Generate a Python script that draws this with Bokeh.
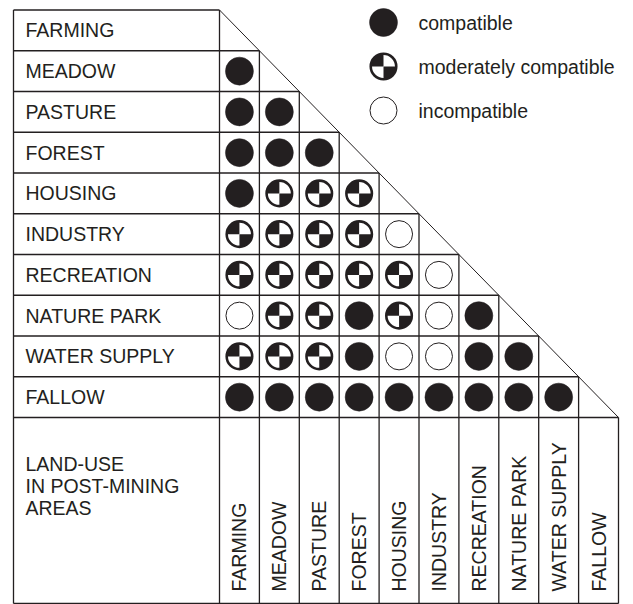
import math
from bokeh.plotting import figure
from bokeh.models import Range1d
from bokeh.core.properties import value
from bokeh.embed import file_html
from bokeh.resources import INLINE

# ---------------- data ----------------
land_uses = ["FARMING", "MEADOW", "PASTURE", "FOREST", "HOUSING", "INDUSTRY",
             "RECREATION", "NATURE PARK", "WATER SUPPLY", "FALLOW"]
# row i rated against columns 0..i-1 ; C = compatible, M = moderately compatible, I = incompatible
ratings = [
    [],
    ["C"],
    ["C", "C"],
    ["C", "C", "C"],
    ["C", "M", "M", "M"],
    ["M", "M", "M", "M", "I"],
    ["M", "M", "M", "M", "M", "I"],
    ["I", "M", "M", "C", "M", "I", "C"],
    ["M", "M", "M", "C", "I", "I", "C", "C"],
    ["C", "C", "C", "C", "C", "C", "C", "C", "C"],
]
legend_codes = ["C", "M", "I"]
legend_labels = ["compatible", "moderately compatible", "incompatible"]
corner_label = ["LAND-USE", "IN POST-MINING", "AREAS"]

# ---------------- layout ----------------
LEFT, GX, CW = 13.0, 219.0, 39.9
TOP, RH, BOT = 9.5, 40.75, 603.0
N = len(land_uses)
INK = "#231f20"
FONT = value("Liberation Sans")
FS = value("19.5px")

p = figure(width=633, height=604, output_backend="svg", toolbar_location=None,
           x_range=Range1d(0, 633), y_range=Range1d(604, 0), min_border=0)
p.axis.visible = False
p.grid.visible = False
p.outline_line_color = None
p.background_fill_color = "white"

# ---------------- grid lines ----------------
x0s, y0s, x1s, y1s = [], [], [], []
for k in range(N + 1):
    y = TOP + k * RH
    x0s.append(LEFT); y0s.append(y); x1s.append(GX + k * CW); y1s.append(y)
for j in range(N + 1):
    x = GX + j * CW
    x0s.append(x); y0s.append(TOP + j * RH); x1s.append(x); y1s.append(BOT)
x0s += [LEFT, LEFT]; y0s += [TOP, BOT]; x1s += [LEFT, GX + N * CW]; y1s += [BOT, BOT]
p.segment(x0=x0s, y0=y0s, x1=x1s, y1=y1s, line_color=INK, line_width=1.3)
p.segment(x0=[GX], y0=[TOP], x1=[GX + N * CW], y1=[TOP + N * RH], line_color=INK, line_width=1)

# ---------------- symbols ----------------
pts = {"C": ([], []), "M": ([], []), "I": ([], [])}
for i, row in enumerate(ratings):
    for j, code in enumerate(row):
        pts[code][0].append(GX + (j + 0.5) * CW)
        pts[code][1].append(TOP + (i + 0.5) * RH)

LX = 383
LYS = [22, 66, 110]
for code, ly in zip(legend_codes, LYS):
    pts[code][0].append(LX)
    pts[code][1].append(ly)

def draw(code):
    xs, ys = pts[code]
    if code == "C":
        p.scatter(xs, ys, size=28, marker="circle", fill_color=INK, line_color=INK, line_width=0.5)
    elif code == "I":
        p.scatter(xs, ys, size=27, marker="circle", fill_color="white", line_color=INK, line_width=1)
    else:
        p.scatter(xs, ys, size=26, marker="circle", fill_color="white", line_color=None)
        p.wedge(xs, ys, radius=13, radius_units="screen", start_angle=math.pi / 2,
                end_angle=math.pi, fill_color=INK, line_color=None)
        p.wedge(xs, ys, radius=13, radius_units="screen", start_angle=3 * math.pi / 2,
                end_angle=2 * math.pi, fill_color=INK, line_color=None)
        p.scatter(xs, ys, size=25.5, marker="circle", fill_color=None, line_color=INK, line_width=2.6)

for c in ["C", "M", "I"]:
    draw(c)

# ---------------- texts ----------------
p.text(x=[25] * N, y=[TOP + (i + 0.5) * RH for i in range(N)], text=land_uses,
       text_font=FONT, text_font_size=FS, text_color=INK,
       text_align="left", text_baseline="middle")
p.text(x=[GX + (j + 0.5) * CW for j in range(N)], y=[591] * N, text=land_uses, angle=math.pi / 2,
       text_font=FONT, text_font_size=FS, text_color=INK,
       text_align="left", text_baseline="middle")
p.text(x=[25] * len(corner_label), y=[463 + 22 * k for k in range(len(corner_label))], text=corner_label,
       text_font=FONT, text_font_size=FS, text_color=INK,
       text_align="left", text_baseline="middle")
p.text(x=[418] * len(legend_labels), y=LYS, text=legend_labels,
       text_font=FONT, text_font_size=FS, text_color=INK,
       text_align="left", text_baseline="middle")

open("out.html", "w").write(file_html(p, INLINE))
